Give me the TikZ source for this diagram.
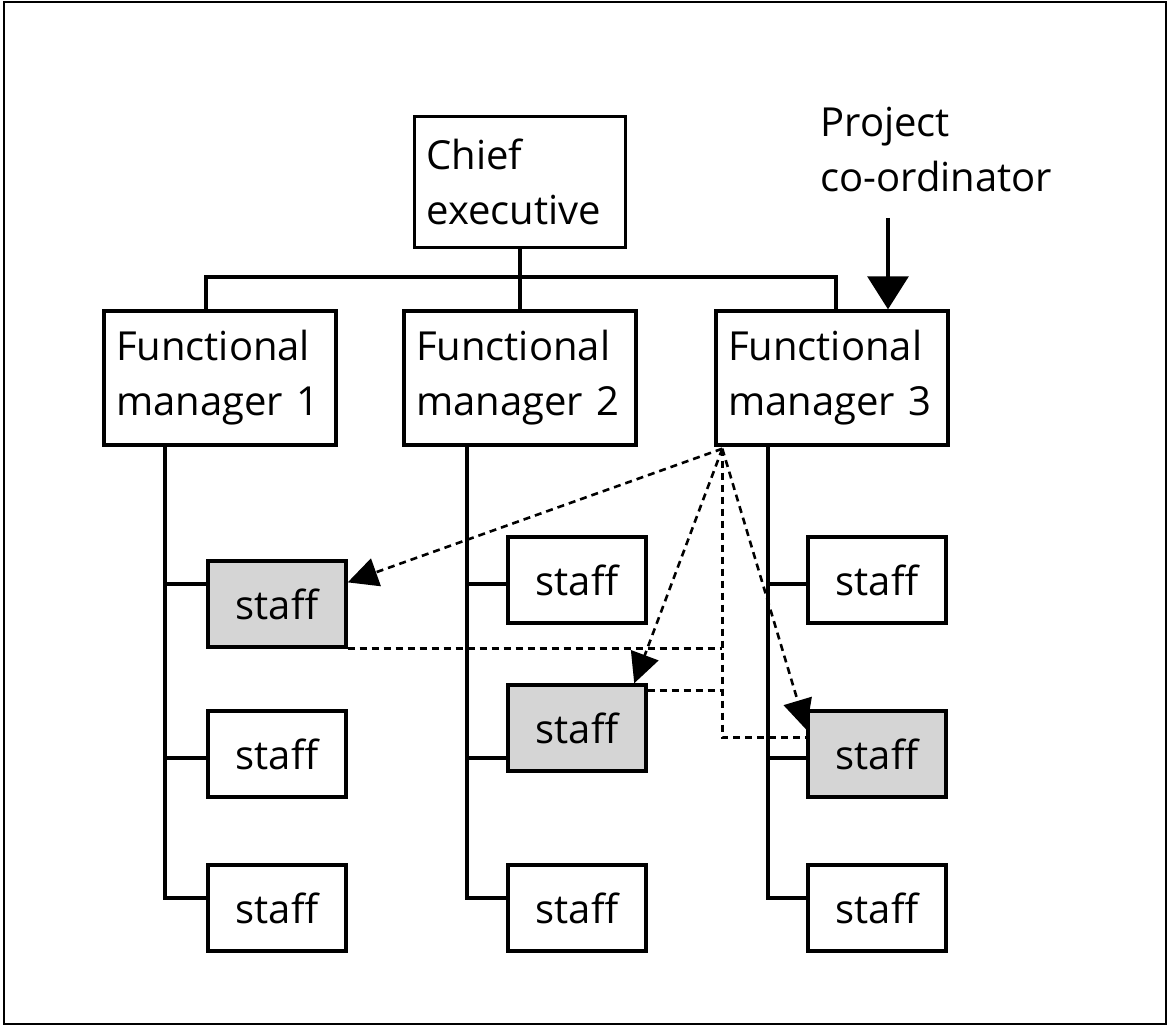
\documentclass[tikz,border=0pt]{standalone}
\usepackage{fontspec}
\setmainfont{Open Sans}
\usetikzlibrary{shapes, arrows, arrows.meta}
\tikzstyle{head} = [rectangle, draw, line width=1.7pt, inner xsep=6pt,
	text width=93.5pt, align=left, minimum height=65.5pt]
\tikzstyle{manager} = [rectangle, draw, line width=1.7pt, inner xsep=6pt,
	text width=104pt, align=left, minimum height=67pt]
\tikzstyle{member} = [rectangle, draw, line width=1.7pt, minimum width=69pt, minimum height=43pt, text centered]
\tikzstyle{team} = [member, fill=gray!33]
\tikzstyle{note} = [anchor=west, inner sep=0pt, align=left]
\tikzstyle{tree} = [line width=1.6pt]
\tikzstyle{link} = [line width=1.3pt, dash pattern=on 3.5pt off 2.5pt]

\begin{document}
\begin{tikzpicture}[x=0.5pt, y=-0.5pt, node distance=98pt, >={Triangle[length=15pt, width=14.5pt]},
		font=\fontsize{20}{27.5}\selectfont]
		%Frame
		\useasboundingbox (0,0) rectangle (1169,1026);
		\draw [line width=1pt] (3.5,2.5) rectangle (1165.5,1023.5);

		%Place nodes
		\node [head] (chief) at (520,182) {Chief\\executive};
		\node [manager, below of=chief] (fm2) {Functional\\manager 2};
		\node [manager, left of=fm2, node distance=150pt] (fm1) {Functional\\manager 1};
		\node [manager, right of=fm2, node distance=156pt] (fm3) {Functional\\manager 3};
		\node [note] (coord) at (820,150) {Project\\co-ordinator};

		\node [team] (s11) at (277,604) {staff};
		\node [member, below of=s11, node distance=75pt] (s12) {staff};
		\node [member, below of=s12, node distance=77pt] (s13) {staff};
		\node [member, right of=s13, node distance=150pt] (s23) {staff};
		\node [member, right of=s23, node distance=150pt] (s33) {staff};
		\node [member, above of=s23, node distance=164pt] (s21) {staff};
		\node [team, above of=s23, node distance=90pt] (s22) {staff};
		\node [member, above of=s33, node distance=164pt] (s31) {staff};
		\node [team, above of=s33, node distance=77pt] (s32) {staff};

		\coordinate (bus) at (520,277);
		\coordinate (ca) at (888,218);
		\coordinate (c1) at (165,0);
		\coordinate (c2) at (467,0);
		\coordinate (c3) at (768,0);
		\coordinate (r1) at (0,584);
		\coordinate (r2) at (0,758);
		\coordinate (r3) at (0,898);
		\coordinate (pm) at ([xshift=4pt, yshift=-1pt]fm3.south west);

		%Draw edges
		\draw [tree] (chief) -- (fm2);
		\draw [tree] ([xshift=-7pt]fm1.north) |- (bus) -| ([xshift=2pt]fm3.north);
		\draw [tree, -{Triangle[length=16.5pt, width=20.5pt]}] (ca) -- (ca |- fm3.north);

		\draw [tree] (fm1.south -| c1) |- (s13.west |- r3);
		\draw [tree] (c1 |- r1) -- (s11.west |- r1);
		\draw [tree] (c1 |- r2) -- (s12.west |- r2);
		\draw [tree] (fm2.south -| c2) |- (s23.west |- r3);
		\draw [tree] (c2 |- r1) -- (s21.west |- r1);
		\draw [tree] (c2 |- r2) -- (s22.west |- r2);
		\draw [tree] (fm3.south -| c3) |- (s33.west |- r3);
		\draw [tree] (c3 |- r1) -- (s31.west |- r1);
		\draw [tree] (c3 |- r2) -- (s32.west |- r2);

		\draw [link, ->] (pm) -- (s11.17);
		\draw [link, ->] (pm) -- (s22.38);
		\draw [link, ->] (pm) -- (s32.161);
		\draw [link] (pm) -- (pm |- s32.167) -- (s32.167);
		\draw [link] (s11.south east) -- (s11.south east -| pm);
		\draw [link] (s22.28) -- (s22.28 -| pm);

	\end{tikzpicture}
\end{document}
